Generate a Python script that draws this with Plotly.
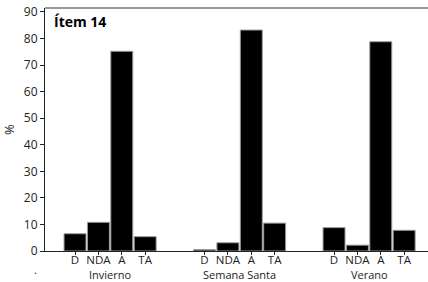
import plotly.graph_objects as go

groups = ["Invierno", "Semana Santa", "Verano"]
answers = ["D", "NDA", "A", "TA"]
values = [
    [6.5, 10.8, 75.2, 5.4],
    [0.5, 3.1, 83.2, 10.5],
    [8.8, 2.2, 78.8, 7.8],
]
y_ticks = [0, 10, 20, 30, 40, 50, 60, 70, 80, 90]

GROUP_STEP = 5.54
xs, ys, labels = [], [], []
for gi, g in enumerate(groups):
    for ai, a in enumerate(answers):
        xs.append(gi * GROUP_STEP + ai)
        ys.append(values[gi][ai])
        labels.append(a)

fig = go.Figure(go.Bar(
    x=xs, y=ys, width=0.94,
    marker=dict(color="black", line=dict(color="#9a9a9a", width=1)),
    hoverinfo="skip",
))

font = "Open Sans, Noto Sans, sans-serif"
fig.update_layout(
    width=428, height=282,
    margin=dict(l=45, r=0, t=8, b=31, autoexpand=False),
    plot_bgcolor="white", paper_bgcolor="white",
    showlegend=False,
    font=dict(family=font, size=11, color="#222"),
    xaxis=dict(
        range=[-1.285, 15.1], tickvals=xs, ticktext=labels, automargin=False,
        showgrid=False, zeroline=False, showline=True, linecolor="#222", linewidth=1,
        ticks="outside", ticklen=3, tickcolor="#222", tickfont=dict(size=11.5, color="#222"),
        ticklabelstandoff=-5,
    ),
    yaxis=dict(
        range=[0, 91.5], tickvals=y_ticks, automargin=False, ticklabeloverflow="allow",
        showgrid=False, zeroline=False, showline=True, linecolor="#222", linewidth=1,
        ticks="outside", ticklen=4, tickcolor="#222", tickfont=dict(size=12, color="#222"),
        title=dict(text="%", font=dict(size=13, color="#222"), standoff=13),
    ),
)

fig.add_shape(type="line", xref="paper", yref="paper", x0=0, x1=1, y0=1, y1=1,
              line=dict(color="#777", width=1.5))

fig.add_annotation(text="<b>Ítem 14</b>", xref="paper", yref="paper", x=0.018, y=0.99,
                   xanchor="left", yanchor="top", showarrow=False,
                   font=dict(size=14, color="black", family=font))

for gi, g in enumerate(groups):
    fig.add_annotation(text=g, xref="x", yref="paper", x=gi * GROUP_STEP + 1.5, y=-0.095,
                       xanchor="center", yanchor="middle", showarrow=False, borderpad=0,
                       font=dict(size=11, color="#222"))

fig.add_annotation(text=".", xref="paper", yref="paper", x=-0.025, y=-0.075,
                   xanchor="center", yanchor="middle", showarrow=False, borderpad=0,
                   font=dict(size=11, color="#222"))

fig.write_html("out.html", config={"displayModeBar": False},
               post_script="document.body.style.margin='0';")
